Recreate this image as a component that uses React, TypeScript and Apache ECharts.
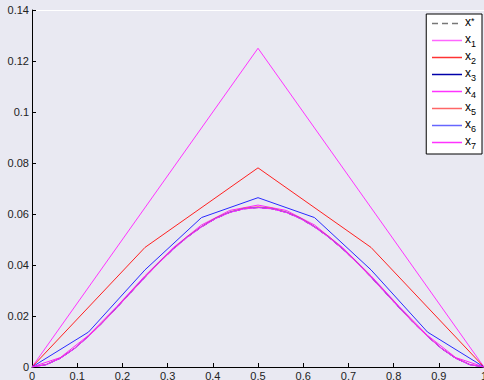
import React, { useEffect, useRef } from "react";
import * as echarts from "echarts";

// grid x positions
const X2 = [0, 0.25, 0.5, 0.75, 1];
const X3 = [0, 0.125, 0.25, 0.375, 0.5, 0.625, 0.75, 0.875, 1];
const X16 = [0, 0.0625, 0.125, 0.1875, 0.25, 0.3125, 0.375, 0.4375, 0.5, 0.5625, 0.625, 0.6875, 0.75, 0.8125, 0.875, 0.9375, 1];
const X32 = [0, 0.03125, 0.0625, 0.09375, 0.125, 0.15625, 0.1875, 0.21875, 0.25, 0.28125, 0.3125, 0.34375, 0.375, 0.40625, 0.4375, 0.46875, 0.5,
  0.53125, 0.5625, 0.59375, 0.625, 0.65625, 0.6875, 0.71875, 0.75, 0.78125, 0.8125, 0.84375, 0.875, 0.90625, 0.9375, 0.96875, 1];
const X1 = [0, 0.5, 1];

const xStar = [0, 0.0009, 0.0034, 0.0072, 0.0120, 0.0174, 0.0232, 0.0292, 0.0352, 0.0409, 0.0462, 0.0509, 0.0549, 0.0582, 0.0606, 0.0620, 0.0625,
  0.0620, 0.0606, 0.0582, 0.0549, 0.0509, 0.0462, 0.0409, 0.0352, 0.0292, 0.0232, 0.0174, 0.0120, 0.0072, 0.0034, 0.0009, 0];
const x1 = [0, 0.125, 0];
const x2 = [0, 0.0469, 0.0781, 0.0469, 0];
const x3 = [0, 0.0137, 0.0381, 0.0586, 0.0664, 0.0586, 0.0381, 0.0137, 0];
const x4 = [0, 0.0037, 0.0124, 0.0237, 0.0358, 0.0468, 0.0557, 0.0614, 0.0635, 0.0614, 0.0557, 0.0468, 0.0358, 0.0237, 0.0124, 0.0037, 0];
const x5 = [0, 0.0010, 0.0035, 0.0073, 0.0121, 0.0176, 0.0234, 0.0294, 0.0354, 0.0411, 0.0464, 0.0512, 0.0551, 0.0585, 0.0608, 0.0623, 0.0628,
  0.0623, 0.0608, 0.0585, 0.0551, 0.0512, 0.0464, 0.0411, 0.0354, 0.0294, 0.0234, 0.0176, 0.0121, 0.0073, 0.0035, 0.0010, 0];
const x6 = [0, 0.0009, 0.0034, 0.0072, 0.0120, 0.0175, 0.0233, 0.0293, 0.0353, 0.0410, 0.0463, 0.0510, 0.0550, 0.0583, 0.0607, 0.0621, 0.0626,
  0.0621, 0.0607, 0.0583, 0.0550, 0.0510, 0.0463, 0.0410, 0.0353, 0.0293, 0.0233, 0.0175, 0.0120, 0.0072, 0.0034, 0.0009, 0];
const x7 = [0, 0.0009, 0.0034, 0.0072, 0.0120, 0.0174, 0.0232, 0.0292, 0.0352, 0.0409, 0.0462, 0.0509, 0.0549, 0.0582, 0.0606, 0.0620, 0.0625,
  0.0620, 0.0606, 0.0582, 0.0549, 0.0509, 0.0462, 0.0409, 0.0352, 0.0292, 0.0232, 0.0174, 0.0120, 0.0072, 0.0034, 0.0009, 0];

const names = ["x*", "x1", "x2", "x3", "x4", "x5", "x6", "x7"];
const colors = ["#555555", "#ff33ff", "#ff2020", "#2a2aff", "#ff20ff", "#ff5555", "#5555ff", "#ff22ff"];
const legendColors = ["#777777", "#ff66ff", "#ff3333", "#0000aa", "#ff33ff", "#ff6666", "#6666ff", "#ff33ff"];

const zip = (xs: number[], ys: number[]) => xs.map((x, i) => [x, ys[i]]);

export default function App() {
  const ref = useRef<HTMLDivElement>(null);
  useEffect(() => {
    if (!ref.current) return;
    const chart = echarts.init(ref.current, undefined, { renderer: "svg" });
    const datasets = [
      zip(X32, xStar), zip(X1, x1), zip(X2, x2), zip(X3, x3),
      zip(X16, x4), zip(X32, x5), zip(X32, x6), zip(X32, x7),
    ];
    const font = "Liberation Sans, Arial, sans-serif";
    chart.setOption({
      animation: false,
      backgroundColor: "#e9e9f2",
      textStyle: { fontFamily: font },
      grid: { left: 32, top: 10, width: 452, height: 357, containLabel: false, outerBoundsMode: "none" },
      legend: {
        orient: "vertical",
        right: 2,
        top: 14,
        backgroundColor: "#ffffff",
        borderColor: "#000000",
        borderWidth: 1,
        borderRadius: 0,
        padding: [2, 6, 4, 5],
        itemWidth: 30,
        itemHeight: 8,
        itemGap: 2,
        itemStyle: { opacity: 0 },
        data: names.map((n, i) => ({
          name: n,
          lineStyle: { color: legendColors[i], width: 1.5, type: i === 0 ? [6, 4] : "solid" },
        })),
        formatter: (n: string) => n === "x*" ? "{x|x}{sup|*}" : `{x|x}{sub|${n.slice(1)}}`,
        textStyle: {
          fontFamily: font,
          color: "#000",
          padding: [0, 0, 0, -2],
          rich: {
            x: { fontSize: 12, fontFamily: font, color: "#000", lineHeight: 12, padding: [0, 0, 3, 0] },
            sub: { fontSize: 9, fontFamily: font, color: "#000", lineHeight: 9, padding: [6, 0, 0, 0] },
            sup: { fontSize: 9, fontFamily: font, color: "#000", lineHeight: 9, padding: [0, 0, 6, 0] },
          },
        },
      },
      xAxis: [
        {
          type: "value", min: 0, max: 1, interval: 0.1,
          axisLine: { lineStyle: { color: "#000", width: 1 } },
          axisTick: { inside: true, length: 4, lineStyle: { color: "#000" } },
          axisLabel: { color: "#222", fontSize: 11, margin: 3, fontFamily: font },
          splitLine: { show: false },
        },
        {
          type: "value", min: 0, max: 1, position: "top",
          axisLine: { show: true, lineStyle: { color: "#ffffff", width: 1 } },
          axisTick: { show: false }, axisLabel: { show: false }, splitLine: { show: false },
        },
      ],
      yAxis: {
        type: "value", min: 0, max: 0.14, interval: 0.02,
        axisLine: { show: true, lineStyle: { color: "#000", width: 1 } },
        axisTick: { show: true, inside: true, length: 4, lineStyle: { color: "#000" } },
        axisLabel: { color: "#222", fontSize: 11, margin: 3, fontFamily: font },
        splitLine: { show: false },
      },
      series: names.map((n, i) => ({
        name: n,
        type: "line",
        data: datasets[i],
        showSymbol: false,
        symbol: "none",
        color: colors[i],
        lineStyle: { color: colors[i], width: 1, type: i === 0 ? [5, 4] : "solid" },
        z: 2 + i,
      })),
    });
    return () => chart.dispose();
  }, []);
  return <div ref={ref} style={{ position: "absolute", left: 0, top: 0, width: 484, height: 380 }} />;
}
